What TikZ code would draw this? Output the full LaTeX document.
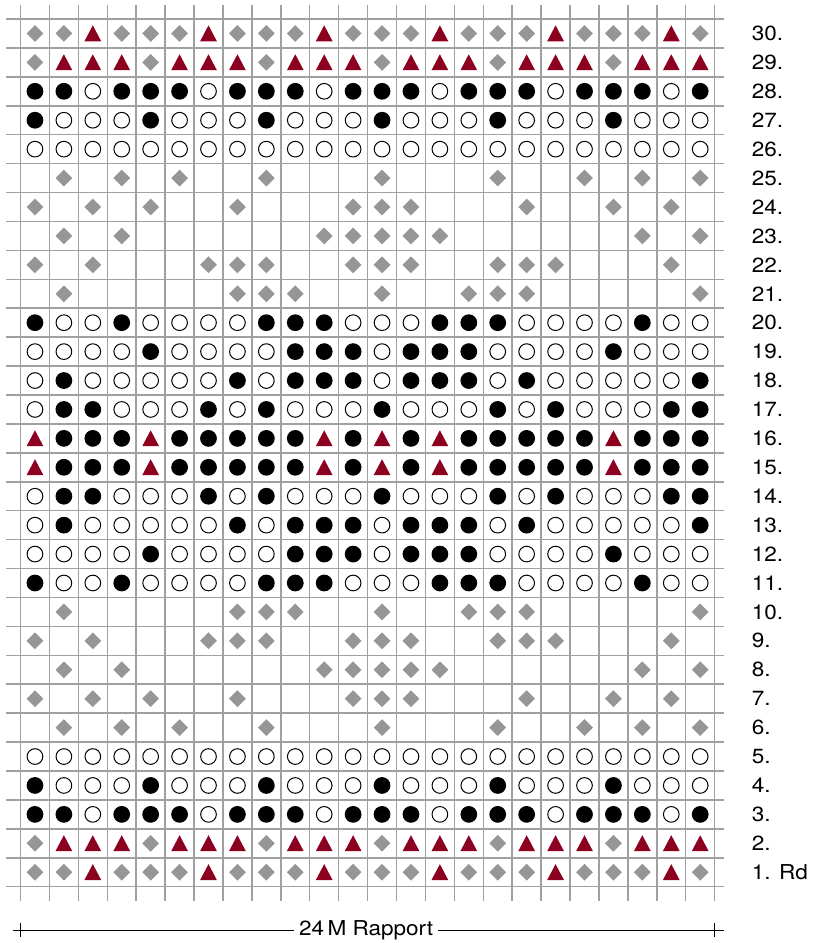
\documentclass[tikz,border=0pt]{standalone}
\usepackage{fontspec}
\setmainfont{TeX Gyre Heros}[FakeStretch=1.1]

\definecolor{gridgray}{RGB}{160,160,160}
\definecolor{knitgray}{RGB}{150,150,150}
\definecolor{knitred}{RGB}{140,0,32}

\tikzset{
    gridline/.style={gridgray, line width=1.5pt},
    rowlab/.style={anchor=west, inner sep=0pt, font=\fontsize{20.5}{22}\selectfont},
    % the stitch symbols
    D/.pic={\fill[knitgray] (0,0.29) -- (0.29,0) -- (0,-0.29) -- (-0.29,0) -- cycle;},
    T/.pic={\fill[knitred] (-0.29,-0.27) -- (0.29,-0.27) -- (0,0.28) -- cycle;},
    B/.pic={\fill[black] (0,0) circle (0.29);},
    O/.pic={\draw[black, line width=1pt] (0,0) circle (0.271);},
    E/.pic={},
}

\begin{document}
\begin{tikzpicture}[x=28.92pt, y=28.92pt]
    % Fix the size of the page
    \useasboundingbox (-0.709,-1.947) rectangle (27.369,30.657);

    % Draw the grid
    \foreach \x in {0,...,24}
        \draw[gridline] (\x,-0.5) -- (\x,30.5);
    \foreach \y in {0,...,30}
        \draw[gridline] (-0.5,\y) -- (24.33,\y);

    % Rows 1 to 15, rows 16 to 30 are the same mirrored
    \foreach \r/\row in {
        1/{D,D,T,D,D,D,T,D,D,D,T,D,D,D,T,D,D,D,T,D,D,D,T,D},
        2/{D,T,T,T,D,T,T,T,D,T,T,T,D,T,T,T,D,T,T,T,D,T,T,T},
        3/{B,B,O,B,B,B,O,B,B,B,O,B,B,B,O,B,B,B,O,B,B,B,O,B},
        4/{B,O,O,O,B,O,O,O,B,O,O,O,B,O,O,O,B,O,O,O,B,O,O,O},
        5/{O,O,O,O,O,O,O,O,O,O,O,O,O,O,O,O,O,O,O,O,O,O,O,O},
        6/{E,D,E,D,E,D,E,E,D,E,E,E,D,E,E,E,D,E,E,D,E,D,E,D},
        7/{D,E,D,E,D,E,E,D,E,E,E,D,D,D,E,E,E,D,E,E,D,E,D,E},
        8/{E,D,E,D,E,E,E,E,E,E,D,D,D,D,D,E,E,E,E,E,E,D,E,D},
        9/{D,E,D,E,E,E,D,D,D,E,E,D,D,D,E,E,D,D,D,E,E,E,D,E},
        10/{E,D,E,E,E,E,E,D,D,D,E,E,D,E,E,D,D,D,E,E,E,E,E,D},
        11/{B,O,O,B,O,O,O,O,B,B,B,O,O,O,B,B,B,O,O,O,O,B,O,O},
        12/{O,O,O,O,B,O,O,O,O,B,B,B,O,B,B,B,O,O,O,O,B,O,O,O},
        13/{O,B,O,O,O,O,O,B,O,B,B,B,O,B,B,B,O,B,O,O,O,O,O,B},
        14/{O,B,B,O,O,O,B,O,B,O,O,O,B,O,O,O,B,O,B,O,O,O,B,B},
        15/{T,B,B,B,T,B,B,B,B,B,T,B,T,B,T,B,B,B,B,B,T,B,B,B}%
    }{
        \foreach \s [count=\c] in \row {
            \pic at (\c-0.5,\r-0.5) {\s};
            \pic at (\c-0.5,30.5-\r) {\s};
        }
    }

    % Row numbers
    \node[rowlab] (row1) at (25.28,0.5) {1. Rd};
    \foreach \r in {2,...,30}
        \node[rowlab] (row\r) at (25.28,\r-0.5) {\r.};

    % Width of the repeat
    \node[font=\fontsize{20.5}{22}\selectfont, inner sep=5pt] (rapport) at (11.95,-1.5) {24\,M Rapport};
    \coordinate (rapL) at (-0.27,-1.5);
    \coordinate (rapR) at (24.33,-1.5);
    \draw[line width=1pt] (rapL) -- (rapport.west);
    \draw[line width=1pt] (rapport.east) -- (rapR);
    \draw[line width=1pt] (0,-1.25) -- (0,-1.75);
    \draw[line width=1pt] (24,-1.25) -- (24,-1.75);
\end{tikzpicture}
\end{document}
